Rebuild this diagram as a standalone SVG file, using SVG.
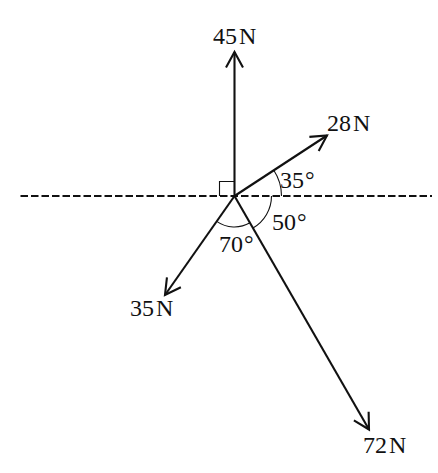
<svg xmlns="http://www.w3.org/2000/svg" width="438" height="473" viewBox="0 0 438 473">
<style>
.ln{stroke:#111;stroke-width:2.1;fill:none}
.thin{stroke:#111;stroke-width:1.1;fill:none}
.dash{stroke:#111;stroke-width:2;stroke-dasharray:7.5 3;fill:none}
.t{font-family:"Liberation Serif","Times New Roman",serif;font-size:24px;fill:#111}
</style>
<defs>
<marker id="arr" markerUnits="userSpaceOnUse" viewBox="-18 -10 20 20" markerWidth="20" markerHeight="20" refX="0" refY="0" orient="auto" overflow="visible">
<path d="M -15.5 -8.5 L 0 0 L -15.5 8.5" fill="none" stroke="#111" stroke-width="2.1"/>
</marker>
</defs>
<rect width="438" height="473" fill="#fff"/>
<g id="connectors">
<line id="axis" class="dash" x1="20.5" y1="196" x2="432" y2="196"/>
<line id="f45" class="ln" x1="234.5" y1="196" x2="234.5" y2="52" marker-end="url(#arr)"/>
<line id="f28" class="ln" x1="234.5" y1="196" x2="327" y2="135.5" marker-end="url(#arr)"/>
<line id="f35" class="ln" x1="234.5" y1="196" x2="165" y2="295" marker-end="url(#arr)"/>
<line id="f72" class="ln" x1="234.5" y1="196" x2="369" y2="429.5" marker-end="url(#arr)"/>
<path id="right-angle" class="thin" d="M 219.5 196 V 181.5 H 234.5"/>
<path id="arc35" class="thin" d="M 281.5 196 A 47 47 0 0 0 273.8 170.3"/>
<path id="arc50" class="thin" d="M 271.5 196 A 37 37 0 0 1 253 228"/>
<path id="arc70" class="thin" d="M 250 222.8 A 31 31 0 0 1 216.7 221.4"/>
</g>
<g id="n45"><text class="t" x="213" y="44">45<tspan dx="2">N</tspan></text></g>
<g id="n28"><text class="t" x="327" y="131">28<tspan dx="2">N</tspan></text></g>
<g id="n35"><text class="t" x="130" y="316">35<tspan dx="2">N</tspan></text></g>
<g id="n72"><text class="t" x="363" y="453">72<tspan dx="2">N</tspan></text></g>
<g id="a35"><text class="t" x="280" y="188">35<tspan dx="1">°</tspan></text></g>
<g id="a50"><text class="t" x="272" y="230">50<tspan dx="1">°</tspan></text></g>
<g id="a70"><text class="t" x="219" y="252">70<tspan dx="1">°</tspan></text></g>
</svg>
